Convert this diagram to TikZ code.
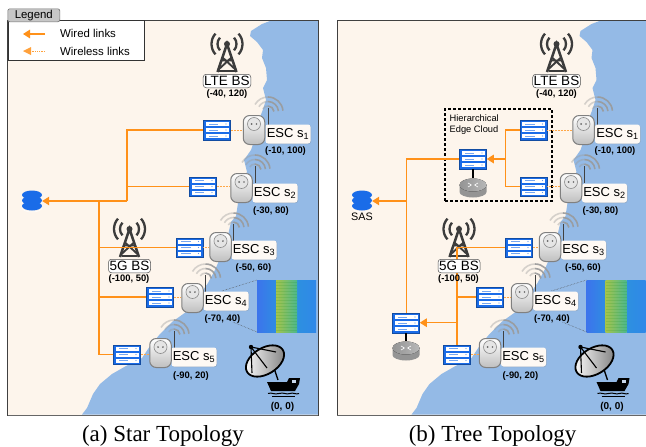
\documentclass[tikz,border=0pt]{standalone}
\usepackage{fontspec}
\setmainfont{Liberation Sans}
\newfontfamily\capfont{Liberation Serif}
\usetikzlibrary{arrows.meta,shadows}
\definecolor{land}{HTML}{FDF5EC}
\definecolor{sea}{HTML}{94BAE6}
\definecolor{wire}{HTML}{FF9119}
\definecolor{srvblue}{HTML}{1A6CE8}
\definecolor{towerc}{HTML}{3C3C3C}
\definecolor{arcc}{HTML}{9A9A9A}
\definecolor{specA}{HTML}{3C74EC}
\definecolor{specB}{HTML}{2F8CE2}
\definecolor{specC}{HTML}{2D90E0}
\definecolor{specD}{HTML}{3088E8}
\definecolor{specE}{HTML}{A4C44C}
\definecolor{specF}{HTML}{4CB88C}
\tikzset{
  x=1pt,y=-1pt,
  panelbox/.style={draw=black!75,line width=0.8pt,drop shadow={shadow xshift=0pt,shadow yshift=-1pt,opacity=.4}},
  srvbox/.style={draw=black!30!srvblue,line width=.5pt,fill=srvblue,minimum width=27pt,minimum height=19.5pt,inner sep=0pt,drop shadow={shadow xshift=.5pt,shadow yshift=-.5pt,opacity=.3}},
  plugbox/.style={draw=black!50,line width=1pt,rounded corners=6.5pt,top color=white,bottom color=black!25,minimum width=21.5pt,minimum height=29pt,inner sep=0pt},
  esclabel/.style={fill=land!60!white,rounded corners=2.5pt,minimum width=45pt,minimum height=19pt,inner sep=0pt,font=\fontsize{13}{14}\selectfont,drop shadow={shadow xshift=.5pt,shadow yshift=-.5pt,opacity=.35}},
  bslabel/.style={draw=black!70,line width=.5pt,fill=white,rounded corners=3pt,minimum height=13.5pt,inner sep=1pt,font=\fontsize{13.5}{14}\selectfont},
  coord/.style={font=\fontsize{9.4}{11}\bfseries\selectfont,inner sep=0pt},
  wired/.style={draw=wire,line width=1.2pt},
  wiredarrow/.style={draw=wire,line width=1.2pt,-{Triangle[length=7pt,width=8.5pt]}},
  wireless/.style={draw=wire!80,line width=.5pt,densely dotted},
  towerline/.style={draw=towerc,line width=2.5pt},
  arcline/.style={draw=arcc,line width=1.6pt},
  legendtext/.style={font=\fontsize{11.4}{13}\selectfont,anchor=west,inner sep=0pt},
  captext/.style={font=\capfont\fontsize{23}{24}\selectfont,inner sep=0pt},
  zoomline/.style={draw=black!70,line width=.5pt,densely dotted},
}
\newcommand\srv[2]{%
  \node[srvbox] (#1) at (#2) {};
  \foreach \dy in {-6,0,6}{
    \fill[white] ([shift={(-11.5pt,\dy pt-2pt)}]#1.center) rectangle ([shift={(11.5pt,\dy pt+2pt)}]#1.center);
    \fill[srvblue!60] ([shift={(-8.5pt,\dy pt-.4pt)}]#1.center) rectangle ([shift={(1pt,\dy pt+.4pt)}]#1.center);
    \fill[srvblue!70] ([shift={(9pt,\dy pt)}]#1.center) circle (.7pt);
  }}
\newcommand\plugnode[2]{%
  \node[plugbox] (#1) at (#2) {};
  \fill[black!10,draw=black!45,line width=.6pt] ([yshift=6pt]#1.center) circle (6.5pt);
  \fill[black!60] ([shift={(-2.4pt,6pt)}]#1.center) circle (.9pt);
  \fill[black!60] ([shift={(2.4pt,6pt)}]#1.center) circle (.9pt);}
\newcommand\signal[1]{%
  \draw[black!75,line width=.8pt] (#1) -- ++(0,-17);
  \begin{scope}[shift={(#1)}]
    \foreach \r in {6,10.5,15}{
      \draw[arcline,draw opacity=.9] (0,-13) ++(5:\r pt) arc[start angle=5,end angle=90,radius=\r pt];
      \draw[arcline,draw opacity=.4] (0,-13) ++(90:\r pt) arc[start angle=90,end angle=150,radius=\r pt];}
  \end{scope}}
\newcommand\tower[1]{%
  \begin{scope}[shift={(#1)}]
    \draw[towerline] (-9.5,28) -- (0,0) -- (9.5,28);
    \draw[towerline,line width=1.9pt] (-5.5,16.5) -- (5.5,16.5) (-9,26) -- (5,13) (9,26) -- (-5,13) (-8,27) -- (8,27);
    \fill[towerc] (0,0) circle (3pt);
    \foreach \r in {9.5,15.5}{
      \draw[towerline,line width=2.3pt] (0,0) ++(-42:\r pt) arc[start angle=-42,end angle=42,radius=\r pt];
      \draw[towerline,line width=2.3pt] (0,0) ++(138:\r pt) arc[start angle=138,end angle=222,radius=\r pt];}
  \end{scope}}
\newcommand\router[2]{%
  \node[inner sep=0pt,minimum width=27pt,minimum height=19pt] (#1) at (#2) {};
  \fill[black!42] ([xshift=-13.5pt,yshift=3pt]#1.center) -- ([xshift=-13.5pt,yshift=-4pt]#1.center) arc[start angle=180,end angle=360,x radius=13.5pt,y radius=5.5pt] -- ([xshift=13.5pt,yshift=3pt]#1.center) -- cycle;
  \fill[left color=black!42,right color=black!28] ([yshift=3pt]#1.center) ellipse (13.5pt and 6.5pt);
  \draw[white,line width=.6pt] ([shift={(-5pt,5pt)}]#1.center) -- ([shift={(-1.5pt,3pt)}]#1.center) ([shift={(5pt,5pt)}]#1.center) -- ([shift={(1.5pt,3pt)}]#1.center) ([shift={(-5pt,1pt)}]#1.center) -- ([shift={(-1.5pt,3pt)}]#1.center) ([shift={(5pt,1pt)}]#1.center) -- ([shift={(1.5pt,3pt)}]#1.center);}
\newcommand\dbnode[2]{%
  \node[inner sep=0pt,minimum width=20pt,minimum height=18pt] (#1) at (#2) {};
  \foreach \dy in {6,0.5,-5}{
    \fill[srvblue] ([yshift=\dy pt]#1.center) ellipse (10pt and 4.5pt);
    \draw[white,line width=.5pt] ([shift={(-10pt,\dy pt-1.5pt)}]#1.center) arc[start angle=180,end angle=360,x radius=10pt,y radius=4.5pt];}}
\newcommand\panelback[1]{%
    \draw[panelbox,fill=land] (7.5,20.5) rectangle (318,415);
    \fill[sea] (318,21) -- (270,21) -- (262,24) -- (251,31) -- (250,36) -- (257,42) -- (263,50) -- (262,58) -- (266,68) -- (267,80) -- (263,88) -- (266,100) -- (262,112) -- (258,122) -- (256,135) -- (251,150) -- (244,160) -- (247,172) -- (240,185) -- (238,203) -- (236,216) -- (231,222) -- (228,235) -- (221,256) -- (215,270) -- (208,283) -- (196,300) -- (186,312) -- (172,322) -- (160,334) -- (150,346) -- (142,358) -- (126,366) -- (112,374) -- (100,384) -- (93,394) -- (87,408) -- (82,414.5) -- (318,414.5) -- cycle;
    \draw[black!60,line width=.8pt] (7.5,415) -- (318,415);
    \draw[black!75,line width=.8pt] (7.5,20.5) -- (318,20.5) (318,20.5) -- (318,415);
    \shade[left color=specA,right color=specB] (257,280) rectangle (276,332);
    \shade[left color=specC,right color=specD] (297,280) rectangle (316,332);
    \shade[left color=specE,right color=specF] (276,280) rectangle (297,332);
    \foreach \y in {282,285,...,331}{\draw[green!50!black,opacity=.12,line width=.7pt] (276,\y) -- (297,\y);}
    \coordinate (#1sa) at (222,291);\coordinate (#1sb) at (233,322);
    \coordinate (#1sc) at (257,280);\coordinate (#1sd) at (257,332);
    \draw[zoomline] (#1sa) -- (#1sc) (#1sb) -- (#1sd);}
\newcommand\panelfront[1]{%
    \tower{227,44}
    \node[bslabel,minimum width=47pt] (#1lte) at (227,81) {LTE BS};
    \node[coord] (#1ltec) at (227,94) {(-40, 120)};
    \node[bslabel,minimum width=42pt] (#1fg) at (129.5,266) {5G BS};
    \node[coord] (#1fgc) at (129,279) {(-100, 50)};
    \signal{268,125}\signal{255,183}\signal{233.5,241}\signal{205.5,292}\signal{174,348}
    \node[coord] (#1c1) at (285.5,151) {(-10, 100)};
    \node[coord] (#1c2) at (271,211) {(-30, 80)};
    \node[coord] (#1c3) at (253.5,268) {(-50, 60)};
    \node[coord] (#1c4) at (222.5,319) {(-70, 40)};
    \node[coord] (#1c5) at (191,376) {(-90, 20)};
    \node[coord,font=\fontsize{10}{12}\bfseries\selectfont] (#1c0) at (282.5,407) {(0, 0)};
    \node[esclabel] (#1e1) at (288,134) {ESC s\textsubscript{1}};
    \node[esclabel] (#1e2) at (275,193) {ESC s\textsubscript{2}};
    \node[esclabel] (#1e3) at (254,250) {ESC s\textsubscript{3}};
    \node[esclabel] (#1e4) at (226,301) {ESC s\textsubscript{4}};
    \node[esclabel] (#1e5) at (194,357) {ESC s\textsubscript{5}};
    \plugnode{#1p1}{254,130}
    \plugnode{#1p2}{241.5,188}
    \plugnode{#1p3}{220.5,247}
    \plugnode{#1p4}{192.5,298}
    \plugnode{#1p5}{160.5,353}
    \draw[black,line width=1.4pt] (274,368) -- (278,380);
    \draw[left color=white,right color=black!50,draw=black,line width=1.8pt,rotate around={32:(265,361)}] (265,361) ellipse (21pt and 13pt);
    \draw[black,line width=1.1pt] (251,347) -- (252,373) (251,347) -- (276,352) (251,347) -- (267,368);
    \fill[black] (251,347) circle (2.2pt);
    \fill[black] (267,382) -- (287,382) -- (289,378) -- (300,378) -- (299,384) -- (295,391) -- (271,391) -- cycle;
    \fill[land!50!sea] (292,380) rectangle (296,383);
    \draw[black,line width=1pt] (268,393.5) .. controls (272,392) and (274,395) .. (279,393.5) .. controls (284,392) and (286,395) .. (290,393.5) .. controls (293,392) and (296,395) .. (299,393.5);
    \draw[black,line width=.9pt] (272,396) -- (295,396);}
\begin{document}
\begin{tikzpicture}
\useasboundingbox (0,0) rectangle (646,447);
\clip (0,0) rectangle (646,447);
\fill[white] (0,0) rectangle (646,447);
\panelback{a}
\begin{scope}[shift={(329.5,0)}]\panelback{b}\end{scope}
\tower{129.5,229}
\begin{scope}[shift={(329.5,0)}]\tower{129.5,229}\end{scope}
% panel a
\dbnode{adb}{32,201}
\srv{as1}{217,130}
\srv{as2}{203,186.5}
\srv{as3}{189.5,247.5}
\srv{as4}{160,297}
\srv{as5}{127,354.5}
\coordinate (aj1) at (127,201);
\coordinate (aj2) at (99,201);
\draw[wiredarrow] (aj1) -- (adb.east);
\draw[wired] (as1.west) -| (aj1);
\draw[wired] (as2.west) -| (aj1);
\draw[wired] (as5.west) -| (aj2);
\draw[wired] (as3.west) -| (aj2);
\draw[wired] (as4.west) -| (aj2);
% panel b
\node[draw,densely dashed,line width=1.1pt,minimum width=107pt,minimum height=92pt,inner sep=0pt] (cloud) at (498.5,155) {};
\node[anchor=north west,align=left,inner sep=0pt,font=\fontsize{9.3}{11}\selectfont] (cloudt) at (449.5,114.5) {Hierarchical\\Edge Cloud};
\dbnode{bdb}{362,201}
\node[font=\fontsize{10.8}{12}\selectfont,inner sep=0pt] (sas) at (362,217) {SAS};
\srv{bs1}{533.5,130}
\srv{bs2}{533.5,186.5}
\srv{bs3}{519,247.5}
\srv{bs4}{490,297}
\srv{bs5}{457,354.5}
\srv{bc}{473,159}
\router{brc}{473,188}
\srv{bd}{406,323}
\router{brd}{406,351}
\draw[black,line width=1.4pt] (bc.south) -- (brc.north);
\draw[black,line width=1.4pt] (bd.south) -- (brd.north);
\coordinate (bj1) at (505.7,159);
\coordinate (bj2) at (406.7,201);
\coordinate (bj3) at (457.7,322.7);
\draw[wired] (bs1.west) -| (bj1);
\draw[wired] (bs2.west) -| (bj1);
\draw[wiredarrow] (bj1) -- (bc.east);
\draw[wired] (bc.west) -| (bd.north -| bj2);
\draw[wiredarrow] (bj2) -- (bdb.east);
\draw[wired] (bs3.west) -| (bs5.north);
\draw[wired] (bs4.west) -| (bs5.north);
\draw[wiredarrow] (bj3) -- (bd.east |- bj3);
\panelfront{a}
\begin{scope}[shift={(329.5,0)}]\panelfront{b}\end{scope}
\foreach \i in {1,...,5}{
  \draw[wireless] (as\i.east) -- (ap\i.west |- as\i.east);
  \draw[wireless] (bs\i.east) -- (bp\i.west |- bs\i.east);
}
\node[draw=black!80,line width=.7pt,fill=white,minimum width=136pt,minimum height=39.5pt,inner sep=0pt,anchor=north west,drop shadow={shadow xshift=0pt,shadow yshift=-.7pt,opacity=.4}] (legend) at (7.5,20) {};
\node[draw=black!55,line width=.6pt,fill=black!22,rounded corners=2pt,minimum width=52pt,minimum height=13pt,inner sep=0pt,anchor=north west,font=\fontsize{11.4}{13}\selectfont] (legtab) at (7.5,8.5) {Legend};
\coordinate (lw1) at (45,34);\coordinate (lw2) at (23,34);
\coordinate (lf1) at (45,51);\coordinate (lf2) at (31,51);
\draw[wiredarrow] (lw1) -- (lw2);
\draw[wire!85,line width=.8pt,densely dotted] (lf1) -- (lf2);
\fill[wire!85] (23,51) -- (31,47) -- (31,55) -- cycle;
\node[legendtext] (lt1) at (60,33.5) {Wired links};
\node[legendtext] (lt2) at (60,51) {Wireless links};
\node[captext] (capa) at (163,435.5) {(a) Star Topology};
\node[captext] (capb) at (492.5,435.5) {(b) Tree Topology};
\end{tikzpicture}
\end{document}
